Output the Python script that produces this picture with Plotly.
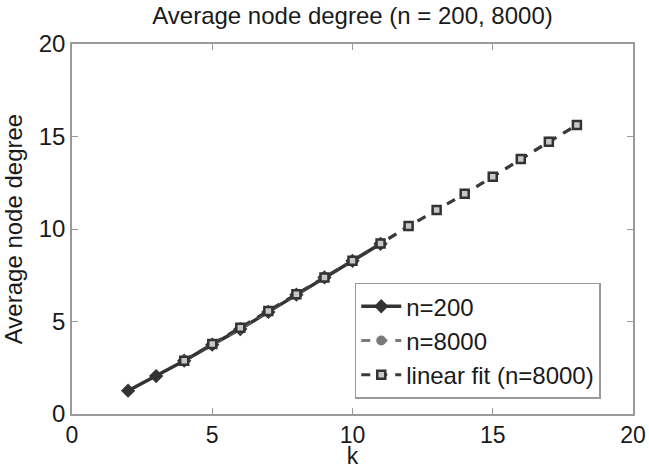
import plotly.graph_objects as go

# ---- data ----
k_200 = [2, 3, 4, 5, 6, 7, 8, 9, 10, 11]
deg_200 = [1.26, 2.05, 2.88, 3.75, 4.59, 5.52, 6.45, 7.38, 8.28, 9.20]

k_8000 = [4, 5, 6, 7, 8, 9, 10, 11, 12, 13, 14, 15, 16, 17, 18]
deg_8000 = [2.90, 3.78, 4.62, 5.55, 6.45, 7.38, 8.30, 9.22, 10.15, 11.03, 11.90, 12.83, 13.77, 14.71, 15.62]

k_fit = [4, 5, 6, 7, 8, 9, 10, 11, 12, 13, 14, 15, 16, 17, 18]
deg_fit = [2.88, 3.78, 4.66, 5.57, 6.47, 7.38, 8.28, 9.21, 10.16, 11.03, 11.90, 12.83, 13.78, 14.72, 15.62]

x_ticks = [0, 5, 10, 15, 20]
y_ticks = [0, 5, 10, 15, 20]

FONT = "Liberation Sans, Arial, Helvetica, sans-serif"
TXT = "#1a1a1a"
W, H = 649, 469

fig = go.Figure()
fig.add_trace(go.Scatter(
    x=k_200, y=deg_200, name="n=200", mode="lines+markers",
    line=dict(color="#333333", width=3.5),
    marker=dict(symbol="diamond", size=11, color="#333333"),
))
fig.add_trace(go.Scatter(
    x=k_8000, y=deg_8000, name="n=8000", mode="lines+markers",
    line=dict(color="#7a7a7a", width=3, dash="9px,8px"),
    marker=dict(symbol="circle", size=10, color="#7a7a7a"),
))
fig.add_trace(go.Scatter(
    x=k_fit, y=deg_fit, name="linear fit (n=8000)", mode="lines+markers",
    line=dict(color="#3a3a3a", width=3, dash="9px,8px"),
    marker=dict(symbol="square", size=8, color="#c8c8c8",
                line=dict(color="#333333", width=2.5)),
))

axis_common = dict(
    showgrid=False, zeroline=False, showline=True, linecolor="#9a9a9a",
    linewidth=1.5, mirror="ticks", ticks="inside", ticklen=6,
    tickcolor="#9a9a9a", tickwidth=1, automargin=True,
)

fig.update_layout(
    width=W, height=H,
    margin=dict(l=72, r=16, t=44, b=55, autoexpand=False),
    paper_bgcolor="white", plot_bgcolor="white",
    font=dict(family=FONT, size=24, color=TXT),
    title=dict(text="Average node degree (n = 200, 8000)",
               font=dict(family=FONT, size=24, color=TXT),
               x=0.5, xref="paper", xanchor="center",
               y=1 - 15.5 / H, yref="container", yanchor="middle"),
    xaxis=dict(range=[0, 20], tickvals=x_ticks,
               tickfont=dict(family=FONT, size=23, color=TXT),
               title=dict(text="k", standoff=10,
                          font=dict(family=FONT, size=23, color=TXT)),
               **axis_common),
    yaxis=dict(range=[0, 20], tickvals=y_ticks,
               tickfont=dict(family=FONT, size=24, color=TXT),
               title=dict(text="Average node degree", standoff=14,
                          font=dict(family=FONT, size=24, color=TXT)),
               **axis_common),
    legend=dict(x=0.504, y=0.355, xanchor="left", yanchor="top",
                bgcolor="white", bordercolor="#9a9a9a", borderwidth=1.5,
                font=dict(family=FONT, size=24, color=TXT),
                itemwidth=40),
    showlegend=True,
)

fig.write_html("out.html",
               config={"displayModeBar": False},
               post_script="document.body.style.margin='0';")
